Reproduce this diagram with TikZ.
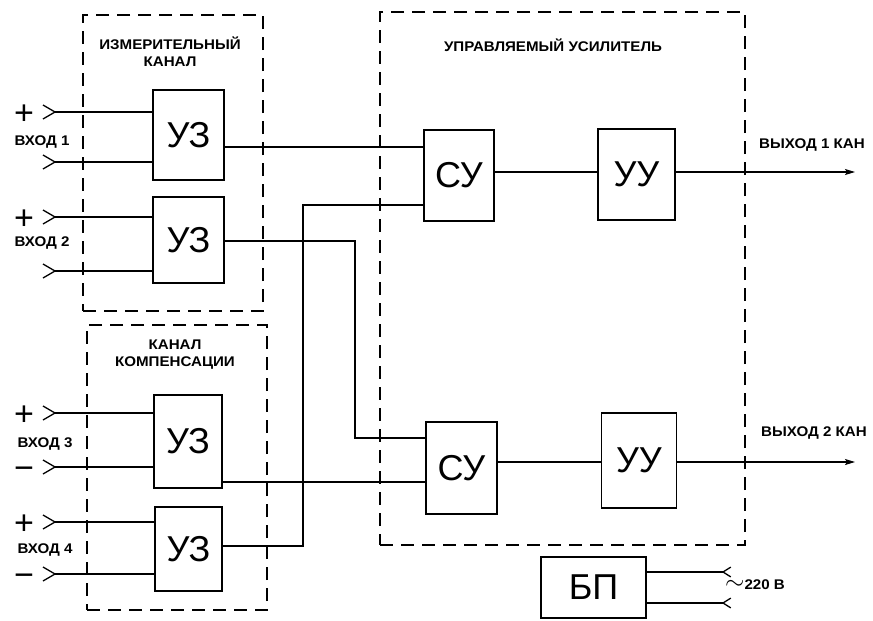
\documentclass[tikz,border=0pt]{standalone}
\usepackage{fontspec}
\setmainfont{Liberation Sans}
\newfontfamily\lblfont{Liberation Sans}[FakeStretch=1.08]
\usetikzlibrary{arrows.meta}

\begin{document}
\begin{tikzpicture}[
        x=1pt, y=-1pt,
        blk/.style={
            rectangle, draw=black, line width=1.4pt, fill=white,
            inner sep=0pt, font=\fontsize{36}{38}\selectfont
        },
        grp/.style={rectangle, draw=black, line width=1.3pt,
            dash pattern=on 13pt off 8pt, inner sep=0pt},
        wire/.style={line width=1.3pt, black},
        outarr/.style={wire, -{Stealth[length=10pt, width=6pt, inset=2pt]}},
        lbl/.style={font=\lblfont\bfseries\fontsize{14}{17}\selectfont,
            align=center, inner sep=0pt},
        sgn/.style={font=\fontsize{34}{34}\selectfont, inner sep=0pt, anchor=base},
        chev/.pic={\draw[wire, line join=miter] (-12,-7) -- (0,0) -- (-12,7);}
    ]
    \useasboundingbox (0,0) rectangle (873,621);

    % === Dashed groups ===
    \node[grp, minimum width=180pt, minimum height=296pt] (g1) at (173,163) {};
    \node[grp, minimum width=180pt, minimum height=285pt] (g2) at (177,467.5) {};
    \node[grp, minimum width=365pt, minimum height=533pt] (g3) at (562.5,278.5) {};

    \node[lbl] (t1) at (170,52) {ИЗМЕРИТЕЛЬНЫЙ\\КАНАЛ};
    \node[lbl] (t2) at (175,355) {КАНАЛ\\КОМПЕНСАЦИИ};
    \node[lbl] (t3) at (553,45) {УПРАВЛЯЕМЫЙ УСИЛИТЕЛЬ};

    % === Blocks ===
    \node[blk, minimum width=71pt, minimum height=90pt] (u1) at (188.5,135) {УЗ};
    \node[blk, minimum width=71pt, minimum height=86pt] (u2) at (188.5,240) {УЗ};
    \node[blk, minimum width=68pt, minimum height=93pt] (u3) at (188,441.5) {УЗ};
    \node[blk, minimum width=67pt, minimum height=84pt] (u4) at (188.5,549) {УЗ};
    \node[blk, minimum width=70pt, minimum height=91pt] (su1) at (459,175.5) {СУ};
    \node[blk, minimum width=71pt, minimum height=92pt] (su2) at (461.5,468) {СУ};
    \node[blk, minimum width=77pt, minimum height=91pt] (uu1) at (636.5,174.5) {УУ};
    \node[blk, minimum width=75pt, minimum height=95pt] (uu2) at (639,460.5) {УУ};
    \node[blk, minimum width=105pt, minimum height=61pt] (bp) at (593.5,587.5) {БП};

    % === Inputs ===
    \coordinate (i1p) at (55,112);
    \coordinate (i1m) at (55,162);
    \coordinate (i2p) at (55,217);
    \coordinate (i2m) at (55,271);
    \coordinate (i3p) at (55,413);
    \coordinate (i3m) at (55,467);
    \coordinate (i4p) at (55,522);
    \coordinate (i4m) at (55,574);
    \pic at (i1p) {chev}; \draw[wire] (i1p) -- (i1p -| u1.west);
    \pic at (i1m) {chev}; \draw[wire] (i1m) -- (i1m -| u1.west);
    \pic at (i2p) {chev}; \draw[wire] (i2p) -- (i2p -| u2.west);
    \pic at (i2m) {chev}; \draw[wire] (i2m) -- (i2m -| u2.west);
    \pic at (i3p) {chev}; \draw[wire] (i3p) -- (i3p -| u3.west);
    \pic at (i3m) {chev}; \draw[wire] (i3m) -- (i3m -| u3.west);
    \pic at (i4p) {chev}; \draw[wire] (i4p) -- (i4p -| u4.west);
    \pic at (i4m) {chev}; \draw[wire] (i4m) -- (i4m -| u4.west);

    \node[sgn] (s1) at (24,124) {+};
    \node[sgn] (s2) at (24,229) {+};
    \node[sgn] (s3) at (24,425) {+};
    \node[sgn] (s4) at (24,479) {−};
    \node[sgn] (s5) at (24,534) {+};
    \node[sgn] (s6) at (24,586) {−};

    \node[lbl] (x1) at (42,142) {ВХОД 1};
    \node[lbl] (x2) at (42,243) {ВХОД 2};
    \node[lbl] (x3) at (45,444) {ВХОД 3};
    \node[lbl] (x4) at (45,550) {ВХОД 4};

    % === Connections ===
    \draw[wire] (u1.east |- 0,147) -- (su1.west |- 0,147);
    \draw[wire] (u2.east |- 0,241) -| (355,438) -- (su2.west |- 0,438);
    \draw[wire] (u3.east |- 0,482) -- (su2.west |- 0,482);
    \draw[wire] (u4.east |- 0,546) -| (303,205) -- (su1.west |- 0,205);
    \draw[wire] (su1.east |- 0,172) -- (uu1.west |- 0,172);
    \draw[wire] (su2.east |- 0,462) -- (uu2.west |- 0,462);

    % === Outputs ===
    \coordinate (out1) at (855,172);
    \coordinate (out2) at (855,462);
    \draw[outarr] (uu1.east |- out1) -- (out1);
    \draw[outarr] (uu2.east |- out2) -- (out2);
    \node[lbl] (o1) at (812,145) {ВЫХОД 1 КАН};
    \node[lbl] (o2) at (814,433) {ВЫХОД 2 КАН};

    % === Mains supply ===
    \coordinate (b1) at (723,572);
    \coordinate (b2) at (723,603);
    \draw[wire] (bp.east |- b1) -- (b1);
    \draw[wire] (bp.east |- b2) -- (b2);
    \pic[xscale=-0.65, yscale=0.7] at (b1) {chev};
    \pic[xscale=-0.65, yscale=0.7] at (b2) {chev};
    \node[lbl, anchor=west] (v220) at (725,585) {{\fontsize{24}{24}\selectfont$\sim$}220 В};

\end{tikzpicture}
\end{document}
